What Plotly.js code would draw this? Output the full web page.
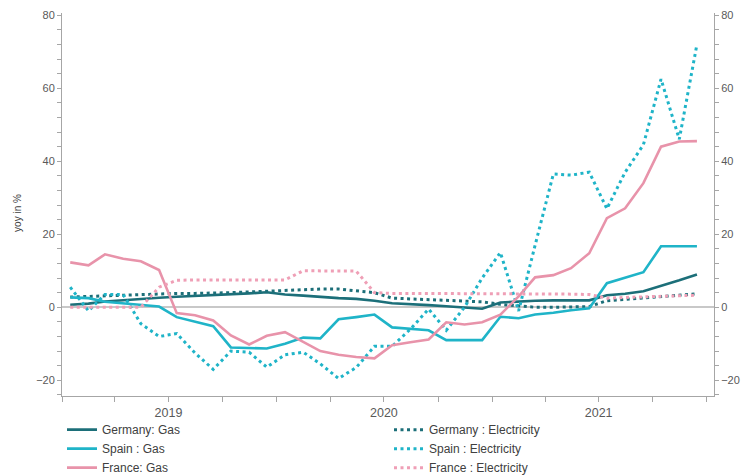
<!DOCTYPE html>
<html>
<head>
<meta charset="utf-8">
<script src="https://cdn.plot.ly/plotly-3.0.1.min.js"></script>
<style>html,body{margin:0;padding:0;background:#fff;}#chart{width:747px;height:476px;}</style>
</head>
<body>
<div id="chart"></div>
<script>
// Monthly observations, Jan 2019 – Dec 2021 (year-on-year change, %)
const months = [
  "2019-01","2019-02","2019-03","2019-04","2019-05","2019-06","2019-07","2019-08","2019-09","2019-10","2019-11","2019-12",
  "2020-01","2020-02","2020-03","2020-04","2020-05","2020-06","2020-07","2020-08","2020-09","2020-10","2020-11","2020-12",
  "2021-01","2021-02","2021-03","2021-04","2021-05","2021-06","2021-07","2021-08","2021-09","2021-10","2021-11","2021-12"
];
const germanyGas = [0.7,1.0,1.6,2.0,2.3,2.6,2.9,3.1,3.3,3.5,3.8,4.1, 3.5,3.2,2.8,2.5,2.3,1.8,1.1,0.9,0.6,0.3,0.0,-0.4, 1.3,1.6,1.8,1.9,1.9,1.9,3.3,3.7,4.4,5.8,7.4,9.0];
const germanyElec = [2.8,3.0,3.2,3.4,3.6,3.7,3.8,3.8,3.8,4.0,4.2,4.4, 4.6,4.8,5.0,5.0,4.6,4.0,2.5,2.3,2.1,1.9,1.7,1.5, 0.8,0.3,0.0,0.0,0.0,0.2,1.8,2.2,2.5,2.8,3.2,3.7];
const spainGas = [2.7,2.5,1.5,1.0,0.5,0.2,-2.7,-4.0,-5.2,-11.0,-11.2,-11.3, -10.0,-8.3,-8.5,-3.3,-2.7,-2.0,-5.5,-5.8,-6.3,-9.0,-9.0,-9.0, -2.6,-3.0,-2.0,-1.5,-0.8,-0.3,6.6,8.2,9.6,16.7,16.7,16.7];
const spainElec = [5.5,-1.0,3.5,3.5,-4.5,-8.0,-7.2,-12.5,-17.0,-12.0,-12.3,-16.4, -13.0,-12.3,-15.5,-19.5,-16.5,-10.7,-10.7,-6.0,-0.5,-6.3,0.0,8.0, 15.0,-1.0,17.0,36.5,36.2,37.0,27.0,37.0,44.5,62.5,46.0,72.0];
const franceGas = [12.3,11.5,14.5,13.3,12.6,10.2,-1.6,-2.2,-3.6,-7.7,-10.2,-7.8, -6.8,-9.5,-12.0,-13.0,-13.6,-14.0,-10.4,-9.6,-8.8,-4.1,-4.7,-4.1, -2.0,3.0,8.2,8.8,10.7,14.8,24.4,27.1,34.0,44.0,45.4,45.5];
const franceElec = [0.0,0.0,0.0,0.0,0.0,5.5,7.4,7.5,7.5,7.5,7.5,7.5, 7.5,10.0,10.0,10.0,9.9,4.0,3.8,3.8,3.8,3.8,3.8,3.8, 3.8,3.8,3.8,3.8,3.6,3.5,2.5,2.7,2.9,3.0,3.2,3.3];
const quarterStarts = ["2019-01-01","2019-04-01","2019-07-01","2019-10-01","2020-01-01","2020-04-01","2020-07-01","2020-10-01","2021-01-01","2021-04-01","2021-07-01","2021-10-01","2022-01-01"];
const quarterLabels = ["","","2019","","","","2020","","","","2021","",""];

const x = months.map(m => m + "-15");
const cDark = "#1c6f79", cCyan = "#1fb4c8", cPink = "#e893aa", cPinkDot = "#ef9fb6";
const FONT = "Liberation Sans, Arial, sans-serif";

function solid(name, y, color){ return {x, y, name, type:"scatter", mode:"lines", line:{color, width:2.6}}; }
function dotted(name, y, color){ return {x, y, name, type:"scatter", mode:"lines", line:{color, width:3, dash:"3px,3.5px"}}; }

const traces = [
  solid("Germany: Gas", germanyGas, cDark),
  dotted("Germany : Electricity", germanyElec, cDark),
  solid("Spain : Gas", spainGas, cCyan),
  dotted("Spain : Electricity", spainElec, cCyan),
  solid("France: Gas", franceGas, cPink),
  dotted("France : Electricity", franceElec, cPinkDot),
  {x, y: germanyGas, yaxis:"y2", type:"scatter", mode:"lines", line:{color:"rgba(0,0,0,0)", width:0}, showlegend:false, hoverinfo:"skip"}
];

const yr = [-24.3, 80.6];
const axisCol = "#a6a6a6";
const layout = {
  width:747, height:476,
  margin:{l:62, r:33, t:13, b:80, autoexpand:false},
  paper_bgcolor:"#fff", plot_bgcolor:"#fff",
  font:{family:FONT, size:11, color:"#595959"},
  showlegend:true,
  legend:{orientation:"h", x:0.0, xanchor:"left", y:-0.05, yanchor:"top",
          entrywidth:282, entrywidthmode:"pixels", font:{size:12, color:"#404040"},
          tracegroupgap:0, itemwidth:30, bgcolor:"rgba(0,0,0,0)"},
  xaxis:{type:"date", range:["2019-01-01","2022-01-13"], showgrid:false, zeroline:false,
         showline:true, linecolor:axisCol, linewidth:1,
         tickmode:"array", tickvals:quarterStarts, ticktext:quarterLabels,
         ticks:"outside", ticklen:5, tickcolor:axisCol, tickfont:{size:12.5, color:"#595959"}},
  yaxis:{range:yr, dtick:20, tick0:0, showgrid:false, zeroline:true, zerolinecolor:"#c8c8c8", zerolinewidth:2,
         showline:true, linecolor:axisCol, ticks:"outside", ticklen:4, tickcolor:axisCol,
         minor:{dtick:4, tick0:0, ticks:"outside", ticklen:4, tickcolor:axisCol, showgrid:false},
         tickfont:{size:11, color:"#595959"}},
  yaxis2:{range:yr, dtick:20, tick0:0, overlaying:"y", side:"right", showgrid:false, zeroline:false,
          showline:true, linecolor:axisCol, ticks:"outside", ticklen:4, tickcolor:axisCol,
          minor:{dtick:4, tick0:0, ticks:"outside", ticklen:4, tickcolor:axisCol, showgrid:false},
          tickfont:{size:11, color:"#595959"}},
  annotations:[{text:"yoy in %", xref:"paper", yref:"paper", x:-0.0675, y:0.478, textangle:-90,
                showarrow:false, font:{size:10, color:"#404040"}, xanchor:"center", yanchor:"middle"}]
};
Plotly.newPlot("chart", traces, layout, {displayModeBar:false, staticPlot:true});
</script>
</body>
</html>
